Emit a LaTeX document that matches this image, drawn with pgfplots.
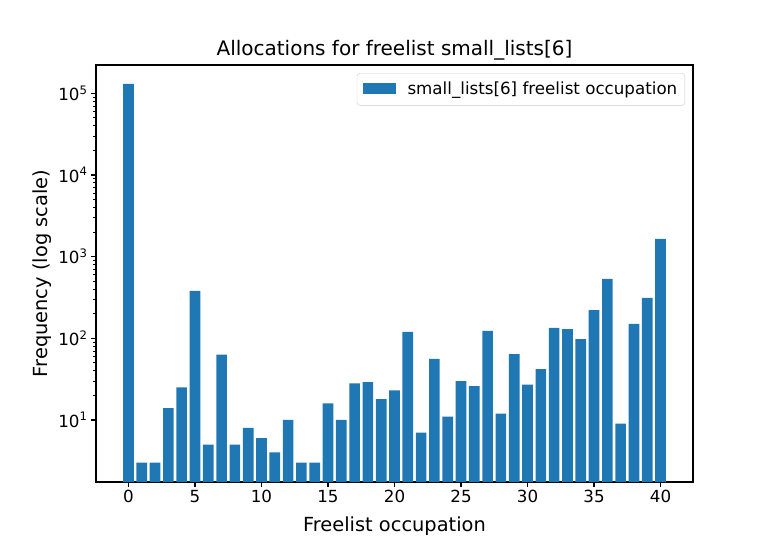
\documentclass[border=0pt]{standalone}
\usepackage{fontspec}
\setmainfont{DejaVu Sans}
\usepackage{pgfplots}
\pgfplotsset{compat=1.18}
\definecolor{mplblue}{HTML}{1F77B4}
\begin{document}
\begin{tikzpicture}
\useasboundingbox (-96pt,-60pt) rectangle (674pt,482pt);
\begin{axis}[
  at={(0,0)}, anchor=south west,
  scale only axis, width=597pt, height=417pt,
  ymode=log, log origin=infty,
  xmin=-2.44, xmax=42.44,
  ymin=1.74, ymax=2.22e5,
  xtick={0,5,10,15,20,25,30,35,40},
  ytick={10,100,1000,10000,100000},
  yticklabels={10\textsuperscript{1},10\textsuperscript{2},10\textsuperscript{3},10\textsuperscript{4},10\textsuperscript{5}},
  /pgf/number format/assume math mode=true,
  tick label style={font=\fontsize{16.7}{20}\selectfont},
  tick align=outside, tick pos=left,
  major tick length=4.9pt, minor tick length=2.8pt,
  every tick/.style={black, line width=1.1pt},
  minor tick style={line width=0.8pt},
  axis line style={line width=1.1pt},
  title={Allocations for freelist small\_lists[6]},
  title style={font=\fontsize{20}{24}\selectfont, yshift=-5pt},
  xlabel={Freelist occupation},
  ylabel={Frequency (log scale)},
  label style={font=\fontsize{19.4}{23}\selectfont},
  xlabel style={yshift=-7pt},
  ylabel style={yshift=0pt},
  legend style={at={(axis description cs:1,1)}, xshift=-8pt, yshift=-8pt, anchor=north east,
    draw=black!20, rounded corners=3pt, font=\fontsize{16.7}{20}\selectfont,
    inner xsep=5.5pt, inner ysep=7pt},
  legend image code/.code={\fill[#1, sharp corners] (0pt,-5pt) rectangle (33pt,6.5pt);},
  legend cell align=left,
]
\addplot[ybar, bar width=0.8, bar shift=0pt, fill=mplblue, draw=none] coordinates {
(0,130000) (1,3) (2,3) (3,14) (4,25) (5,380) (6,5) (7,63) (8,5) (9,8) (10,6)
(11,4) (12,10) (13,3) (14,3) (15,16) (16,10) (17,28) (18,29) (19,18) (20,23)
(21,120) (22,7) (23,56) (24,11) (25,30) (26,26) (27,123) (28,12) (29,64) (30,27)
(31,42) (32,134) (33,130) (34,98) (35,222) (36,533) (37,9) (38,150) (39,312) (40,1645)
};
\addlegendentry{\hspace{10pt}small\_lists[6] freelist occupation}
\end{axis}
\end{tikzpicture}
\end{document}
